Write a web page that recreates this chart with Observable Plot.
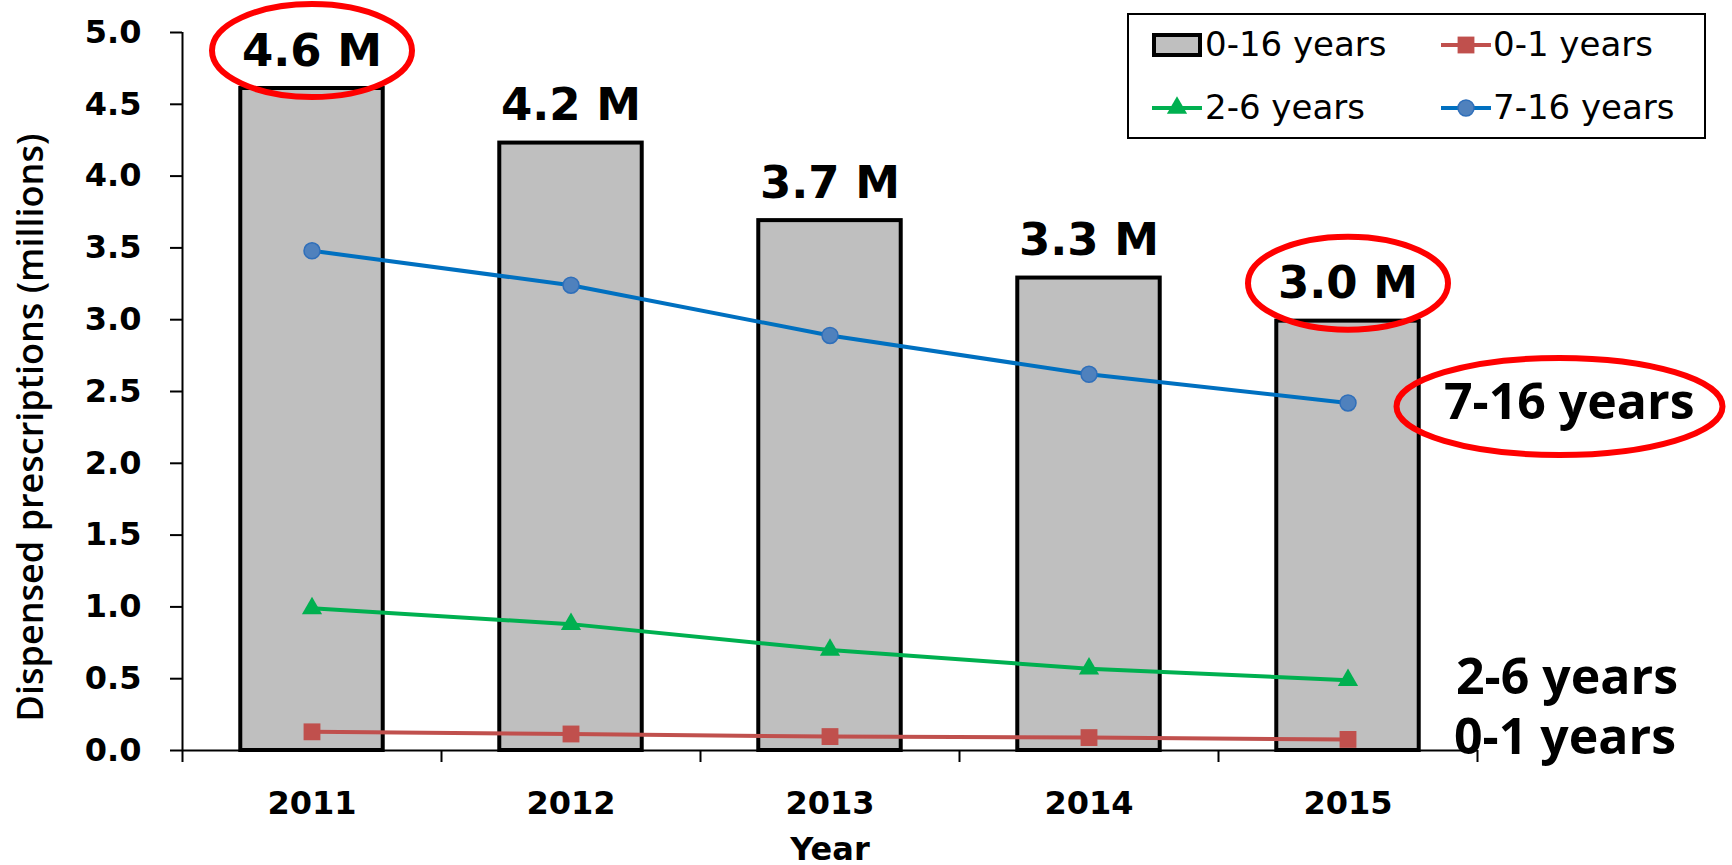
<!DOCTYPE html>
<html><head><meta charset="utf-8">
<script src="https://cdn.jsdelivr.net/npm/d3@7"></script>
<script src="https://cdn.jsdelivr.net/npm/@observablehq/plot@0.6"></script>
<style>
html,body{margin:0;padding:0;background:#fff;}
#wrap{position:relative;width:1732px;height:865px;overflow:hidden;}
</style></head><body><div id="wrap"></div>
<script>
// ---- data ----
const years = [2011, 2012, 2013, 2014, 2015];
const total = [4.61, 4.23, 3.69, 3.29, 2.99];       // 0-16 years (bars)
const age0_1 = [0.13, 0.115, 0.097, 0.09, 0.077];
const age2_6 = [0.99, 0.88, 0.70, 0.57, 0.49];
const age7_16 = [3.48, 3.24, 2.89, 2.62, 2.42];
const barName = "0-16 years";
const seriesNames = ["0-1 years", "2-6 years", "7-16 years"];
const yTicks = [0, 0.5, 1, 1.5, 2, 2.5, 3, 3.5, 4, 4.5, 5];
const circledYears = [2011, 2015];
const circledSeries = "7-16 years";
const yTitle = "Dispensed prescriptions (millions)";
const xTitle = "Year";

// ---- styles ----
const seriesValues = [age0_1, age2_6, age7_16];
const seriesStyle = {
  "0-1 years": {stroke: "#c0504d", fill: "#c0504d", mstroke: "#c0504d", symbol: "square", r: 9.5, dx: 106, dy: -1},
  "2-6 years": {stroke: "#00b050", fill: "#00b050", mstroke: "#00b050", symbol: "triangle", r: 7.5, dx: 108, dy: -2},
  "7-16 years": {stroke: "#0070c0", fill: "#4f81bd", mstroke: "#2f6fba", symbol: "circle", r: 8, dx: 96, dy: 0}
};

function ellipseSymbol(rx, ry) {
  const k = 0.5522847498;
  return {draw(ctx) {
    ctx.moveTo(rx, 0);
    ctx.bezierCurveTo(rx, ry * k, rx * k, ry, 0, ry);
    ctx.bezierCurveTo(-rx * k, ry, -rx, ry * k, -rx, 0);
    ctx.bezierCurveTo(-rx, -ry * k, -rx * k, -ry, 0, -ry);
    ctx.bezierCurveTo(rx * k, -ry, rx, -ry * k, rx, 0);
    ctx.closePath();
  }};
}

const x0 = years[0] - 0.5, x1 = years[years.length - 1] + 0.5;
const boundaries = d3.range(years.length + 1).map(i => x0 + i);
const halfBar = 0.275;
const bars = years.map((year, i) => ({year, total: total[i]}));
const series = seriesNames.map((name, s) => ({name, points: years.map((year, i) => ({year, value: seriesValues[s][i]}))}));
const fmt = d3.format(".1f");

const lineMarks = [];
for (const s of series) {
  const st = seriesStyle[s.name];
  lineMarks.push(Plot.line(s.points, {x: "year", y: "value", stroke: st.stroke, strokeWidth: 4}));
  lineMarks.push(Plot.dot(s.points, {x: "year", y: "value", symbol: st.symbol, r: st.r, fill: st.fill, stroke: st.mstroke, strokeWidth: st.symbol === "circle" ? 1.5 : 0}));
}
const endLabels = series.map(s => {
  const st = seriesStyle[s.name];
  const last = s.points[s.points.length - 1];
  return Plot.text([last], {x: "year", y: "value", text: () => s.name, dx: st.dx, dy: st.dy, textAnchor: "start", lineAnchor: "middle", fontSize: 50, fontWeight: "bold", fontFamily: "Open Sans", fill: "black"});
});
const circled = series.find(s => s.name === circledSeries);
const circledLast = circled.points[circled.points.length - 1];

const chart = Plot.plot({
  width: 1732, height: 865,
  marginLeft: 182, marginRight: 255, marginTop: 32, marginBottom: 115,
  x: {domain: [x0, x1]},
  y: {domain: [0, 5]},
  style: {fontFamily: "DejaVu Sans", background: "white", overflow: "visible", color: "black"},
  marks: [
    Plot.rectY(bars, {x1: d => d.year - halfBar, x2: d => d.year + halfBar, y: "total", fill: "#bfbfbf", stroke: "black", strokeWidth: 4}),
    Plot.ruleY([0], {stroke: "black", strokeWidth: 2}),
    Plot.ruleX([x0], {y1: 0, y2: 5, stroke: "black", strokeWidth: 2}),
    Plot.axisX(boundaries, {tickSize: 12, tickFormat: () => "", strokeWidth: 2, label: null}),
    Plot.axisX(years, {tickSize: 0, tickPadding: 41, tickFormat: d => String(d), fontSize: 32, fontWeight: "bold", label: null}),
    Plot.axisY(yTicks, {tickSize: 12, tickPadding: 29, tickFormat: fmt, fontSize: 32, fontWeight: "bold", strokeWidth: 2, label: null}),
    ...lineMarks,
    Plot.text(bars, {x: "year", y: "total", text: d => fmt(d.total) + " M", lineAnchor: "bottom", dy: -23, fontSize: 45, fontWeight: "bold", fill: "black"}),
    Plot.dot(bars.filter(d => circledYears.includes(d.year)), {x: "year", y: "total", dy: -38, symbol: ellipseSymbol(100, 46.5), r: 10, stroke: "#ff0000", strokeWidth: 6, fill: "none"}),
    ...endLabels,
    Plot.dot([circledLast], {x: "year", y: "value", dx: 211.5, dy: 3.5, symbol: ellipseSymbol(163, 48.5), r: 10, stroke: "#ff0000", strokeWidth: 6, fill: "none"}),
    Plot.text([yTitle], {text: d => d, frameAnchor: "left", rotate: -90, dx: -151, dy: 36, fontSize: 36, fontWeight: 600, fontFamily: "Open Sans", lineAnchor: "middle", textAnchor: "middle", fill: "black"}),
    Plot.text([xTitle], {text: d => d, frameAnchor: "bottom", dy: 109, lineAnchor: "bottom", fontSize: 32, fontWeight: "bold", fill: "black"})
  ]
});
document.getElementById("wrap").appendChild(chart);

// ---- legend (overlay inside the plot area, top-right) ----
const lg = d3.select("#wrap").append("svg")
  .attr("width", 1732).attr("height", 865)
  .style("position", "absolute").style("left", "0px").style("top", "0px")
  .style("font-family", "DejaVu Sans");
lg.append("rect").attr("x", 1128).attr("y", 14).attr("width", 577).attr("height", 124)
  .attr("fill", "white").attr("stroke", "black").attr("stroke-width", 2);
const legendItems = [
  {name: barName, type: "bar", col: 0, row: 0},
  {name: seriesNames[0], type: "line", col: 1, row: 0},
  {name: seriesNames[1], type: "line", col: 0, row: 1},
  {name: seriesNames[2], type: "line", col: 1, row: 1}
];
const colX = [1152, 1441], textX = [1205, 1493], rowY = [45, 108];
for (const it of legendItems) {
  const sx = colX[it.col], cy = rowY[it.row];
  if (it.type === "bar") {
    lg.append("rect").attr("x", sx + 2).attr("y", cy - 10).attr("width", 46).attr("height", 20)
      .attr("fill", "#bfbfbf").attr("stroke", "black").attr("stroke-width", 4);
  } else {
    const st = seriesStyle[it.name];
    lg.append("line").attr("x1", sx).attr("x2", sx + 50).attr("y1", cy).attr("y2", cy)
      .attr("stroke", st.stroke).attr("stroke-width", 4);
    const sym = st.symbol === "square" ? d3.symbolSquare : st.symbol === "triangle" ? d3.symbolTriangle : d3.symbolCircle;
    lg.append("path").attr("d", d3.symbol(sym, Math.PI * st.r * st.r)())
      .attr("transform", `translate(${sx + 25},${cy})`)
      .attr("fill", st.fill).attr("stroke", st.mstroke).attr("stroke-width", st.symbol === "circle" ? 1.5 : 0);
  }
  lg.append("text").attr("x", textX[it.col]).attr("y", cy + 11).attr("font-size", 34).attr("fill", "black").text(it.name);
}
</script></body></html>
